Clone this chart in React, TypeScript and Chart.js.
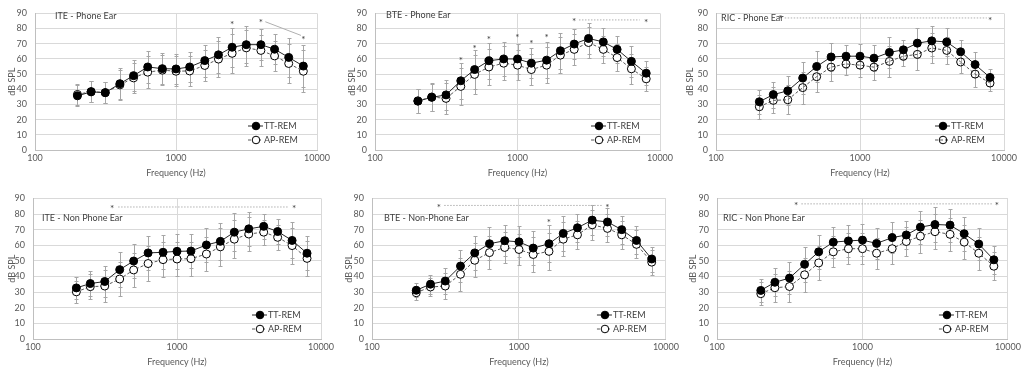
import React, { useEffect, useRef } from "react";
import { Chart, registerables } from "chart.js";

Chart.register(...registerables);

// ---------- data ----------
const freqs = [200, 250, 315, 400, 500, 630, 800, 1000, 1250, 1600, 2000, 2500, 3150, 4000, 5000, 6300, 8000];
const xTickValues = [100, 1000, 10000];
const seriesNames = ["TT-REM", "AP-REM"];
const axisTitleX = "Frequency (Hz)";
const axisTitleY = "dB SPL";

const itePhoneTT = [35.7, 38.3, 37.8, 43.7, 49, 54.7, 53.6, 53.4, 54.7, 58.9, 62.7, 67.7, 69.4, 69.4, 66.4, 61, 55.3];
const itePhoneAP = [36.6, 38.5, 37.8, 42.9, 47.5, 51.3, 52.6, 51.9, 52.1, 55.7, 59.9, 63.7, 67.3, 65.6, 62, 57, 51.9];
const itePhoneSD = [7, 7, 7, 10, 10, 10.5, 10, 10, 10, 10.5, 12, 13, 12, 10, 10, 13, 14];
const itePhoneStarF = [2500, 4000, 8000];
const itePhoneStarV = [83.5, 85, 74];
const itePhoneLinkF = [4300, 7700];
const itePhoneLinkV = [84.5, 75.5];

const btePhoneTT = [32.2, 34.7, 36.3, 45.6, 53, 58.8, 60, 60, 57.2, 59.2, 65.4, 69.8, 73.5, 71.2, 66.3, 58.4, 50.6];
const btePhoneAP = [32.4, 34.9, 34, 41.9, 49.8, 54.7, 57.2, 55.9, 53, 55.9, 62.5, 66.3, 70.8, 66.3, 60.9, 53.5, 46.9];
const btePhoneSD = [8, 9, 10, 12, 13, 12, 11, 10, 10, 12, 12, 10, 10, 9, 9, 10, 8];
const btePhoneStarF = [400, 500, 630, 1000, 1250, 1600, 2500, 8000];
const btePhoneStarV = [60, 68, 74, 75, 71.5, 75.5, 85.5, 85];
const btePhoneLinkF = [2700, 7200];
const btePhoneLinkV = [85.7, 85.7];

const ricPhoneTT = [31.8, 36.5, 39, 47.4, 55, 61.3, 61.8, 61.8, 60.5, 64.3, 66, 70.4, 71.9, 71.2, 64.7, 56.3, 47.8];
const ricPhoneAP = [28.5, 32.7, 33.1, 41.1, 48.3, 54.6, 56.7, 55.9, 54.6, 58.4, 61.8, 63, 67.2, 65.6, 58, 50, 44.1];
const ricPhoneSD = [8, 8.5, 9.5, 10.5, 10, 9, 7.5, 8, 8.5, 10, 6.5, 10, 10, 9, 7.5, 8.5, 5.5];
const ricPhoneStarF = [280, 8000];
const ricPhoneStarV = [88, 86.5];
const ricPhoneLinkF = [300, 7600];
const ricPhoneLinkV = [87, 87];

const iteNonTT = [32.7, 35.5, 36.8, 44.4, 49.9, 55.1, 55.5, 56.1, 56.3, 60.2, 62.5, 68.4, 70.5, 72.1, 68.8, 63.1, 54.9];
const iteNonAP = [30.2, 33.5, 33.9, 38.4, 44.2, 48.3, 50.8, 51.2, 51.4, 54.4, 59, 63.9, 67.2, 68.4, 65.1, 59.8, 51.6];
const iteNonSD = [7, 8, 10, 11, 11, 11, 11, 11, 11, 11, 12, 12, 11, 8, 8, 11.5, 11];
const iteNonStarF = [355, 6500];
const iteNonStarV = [84.5, 84.5];
const iteNonLinkF = [390, 5900];
const iteNonLinkV = [84.5, 84.5];

const bteNonTT = [31.2, 35.1, 37.1, 46.7, 55.1, 61, 62.9, 62.2, 58.2, 61, 67.6, 71.2, 76.1, 74.9, 70, 63.1, 51.2];
const bteNonAP = [29.6, 33.3, 33.9, 41.4, 50.4, 55.3, 58.6, 57.3, 54.1, 56.1, 63.9, 66.7, 73.1, 70.8, 66.7, 60.6, 49.2];
const bteNonSD = [4.5, 6, 8.5, 10.5, 11, 10.5, 10, 10, 11, 12, 11, 9, 9.5, 9, 9, 9, 8];
const bteNonStarF = [285, 1600, 4000];
const bteNonStarV = [85.5, 75.5, 85.5];
const bteNonLinkF = [310, 3700];
const bteNonLinkV = [85.5, 85.5];

const ricNonTT = [31.1, 36.3, 39, 47.8, 55.8, 62, 62.8, 63.3, 61.2, 64.9, 66.6, 71.6, 73.3, 72.9, 67.4, 60.8, 50.7];
const ricNonAP = [29, 32.8, 33.6, 41.1, 48.7, 55.8, 57.8, 57.8, 54.9, 57.8, 62.4, 65.8, 68.7, 67, 62, 54.9, 46.6];
const ricNonSD = [7.5, 9, 10, 11, 11, 10, 10, 10, 10, 10, 9, 10.5, 11, 10.5, 11, 10.5, 9];
const ricNonStarF = [350, 8400];
const ricNonStarV = [86.5, 86.5];
const ricNonLinkF = [380, 7900];
const ricNonLinkV = [86.5, 86.5];

// ---------- layout / style ----------
const FONT = "Lato, 'Open Sans', sans-serif";
const TEXT = "#595959";

type Panel = {
  title: string;
  tt: number[];
  ap: number[];
  sd: number[];
  starF: number[];
  starV: number[];
  linkF: number[];
  linkV: number[];
  linkDash: number[];
  apFill: string;
  cx: number; cy: number; cw: number; ch: number;
  pl: number; pr: number; pt: number; pb: number;
  tx: number; ty: number;
  yTitleX: number;
  xTitleY: number;
};

const panels: Panel[] = [
  {
    title: "ITE - Phone Ear", tt: itePhoneTT, ap: itePhoneAP, sd: itePhoneSD,
    starF: itePhoneStarF, starV: itePhoneStarV, linkF: itePhoneLinkF, linkV: itePhoneLinkV, linkDash: [],
    apFill: "#ffffff",
    cx: 0, cy: 0, cw: 341, ch: 185, pl: 35, pr: 317, pt: 7, pb: 150, tx: 55, ty: 16, yTitleX: 12, xTitleY: 173,
  },
  {
    title: "BTE - Phone Ear", tt: btePhoneTT, ap: btePhoneAP, sd: btePhoneSD,
    starF: btePhoneStarF, starV: btePhoneStarV, linkF: btePhoneLinkF, linkV: btePhoneLinkV, linkDash: [1.5, 1.5],
    apFill: "#ffffff",
    cx: 341, cy: 0, cw: 341, ch: 185, pl: 375, pr: 660, pt: 6, pb: 150, tx: 386, ty: 15, yTitleX: 352, xTitleY: 173,
  },
  {
    title: "RIC - Phone Ear", tt: ricPhoneTT, ap: ricPhoneAP, sd: ricPhoneSD,
    starF: ricPhoneStarF, starV: ricPhoneStarV, linkF: ricPhoneLinkF, linkV: ricPhoneLinkV, linkDash: [1.5, 1.5],
    apFill: "rgba(0,0,0,0)",
    cx: 682, cy: 0, cw: 342, ch: 185, pl: 716, pr: 1004, pt: 7, pb: 150, tx: 721, ty: 18, yTitleX: 690, xTitleY: 173,
  },
  {
    title: "ITE - Non Phone Ear", tt: iteNonTT, ap: iteNonAP, sd: iteNonSD,
    starF: iteNonStarF, starV: iteNonStarV, linkF: iteNonLinkF, linkV: iteNonLinkV, linkDash: [1.5, 1.5],
    apFill: "#ffffff",
    cx: 0, cy: 185, cw: 341, ch: 185, pl: 33, pr: 321, pt: 193, pb: 339, tx: 42, ty: 218, yTitleX: 12, xTitleY: 362,
  },
  {
    title: "BTE - Non-Phone Ear", tt: bteNonTT, ap: bteNonAP, sd: bteNonSD,
    starF: bteNonStarF, starV: bteNonStarV, linkF: bteNonLinkF, linkV: bteNonLinkV, linkDash: [1.5, 1.5],
    apFill: "#ffffff",
    cx: 341, cy: 185, cw: 341, ch: 185, pl: 372, pr: 668, pt: 192, pb: 339, tx: 384, ty: 218, yTitleX: 349, xTitleY: 362,
  },
  {
    title: "RIC - Non Phone Ear", tt: ricNonTT, ap: ricNonAP, sd: ricNonSD,
    starF: ricNonStarF, starV: ricNonStarV, linkF: ricNonLinkF, linkV: ricNonLinkV, linkDash: [1.5, 1.5],
    apFill: "#ffffff",
    cx: 682, cy: 185, cw: 342, ch: 185, pl: 717, pr: 1008, pt: 194, pb: 339, tx: 723, ty: 218, yTitleX: 693, xTitleY: 362,
  },
];

function makeOverlay(p: Panel) {
  return {
    id: "overlay",
    beforeDatasetsDraw(chart: any) {
      const xs = chart.scales.x;
      const ys = chart.scales.y;
      const ctx = chart.ctx as CanvasRenderingContext2D;
      ctx.save();
      ctx.strokeStyle = "#a6a6a6";
      ctx.lineWidth = 1;
      [p.tt, p.ap].forEach((series) => {
        series.forEach((v, i) => {
          const x = Math.round(xs.getPixelForValue(freqs[i])) + 0.5;
          const y1 = Math.round(ys.getPixelForValue(v + p.sd[i])) + 0.5;
          const y2 = Math.round(ys.getPixelForValue(v - p.sd[i])) + 0.5;
          ctx.beginPath();
          ctx.moveTo(x, y1);
          ctx.lineTo(x, y2);
          ctx.moveTo(x - 2, y1);
          ctx.lineTo(x + 2, y1);
          ctx.moveTo(x - 2, y2);
          ctx.lineTo(x + 2, y2);
          ctx.stroke();
        });
      });
      ctx.restore();
    },
    afterDraw(chart: any) {
      const xs = chart.scales.x;
      const ys = chart.scales.y;
      const ca = chart.chartArea;
      const ctx = chart.ctx as CanvasRenderingContext2D;
      ctx.save();
      ctx.fillStyle = "#404040";
      ctx.font = `9px ${FONT}`;
      ctx.textAlign = "left";
      ctx.textBaseline = "middle";
      ctx.fillText(p.title, p.tx - p.cx, p.ty - p.cy);
      ctx.strokeStyle = "#b0b0b0";
      ctx.lineWidth = 1;
      ctx.setLineDash(p.linkDash);
      ctx.beginPath();
      ctx.moveTo(xs.getPixelForValue(p.linkF[0]), ys.getPixelForValue(p.linkV[0]));
      ctx.lineTo(xs.getPixelForValue(p.linkF[1]), ys.getPixelForValue(p.linkV[1]));
      ctx.stroke();
      ctx.setLineDash([]);
      ctx.fillStyle = "#404040";
      ctx.font = `10px ${FONT}`;
      ctx.textAlign = "center";
      ctx.textBaseline = "middle";
      p.starF.forEach((f, i) => {
        ctx.fillText("*", xs.getPixelForValue(f), ys.getPixelForValue(p.starV[i]) + 2);
      });
      const mx = ca.right - 61;
      const rows = [ca.bottom - 24, ca.bottom - 10];
      rows.forEach((yy, k) => {
        ctx.strokeStyle = k === 0 ? "#262626" : "#595959";
        ctx.lineWidth = 1;
        ctx.setLineDash(k === 0 ? [] : [3, 2]);
        ctx.beginPath();
        ctx.moveTo(mx - 8, yy);
        ctx.lineTo(mx + 7, yy);
        ctx.stroke();
        ctx.setLineDash([]);
        ctx.beginPath();
        ctx.arc(mx, yy, 3.8, 0, Math.PI * 2);
        ctx.fillStyle = k === 0 ? "#000000" : p.apFill;
        ctx.fill();
        ctx.strokeStyle = "#000000";
        ctx.stroke();
        ctx.fillStyle = "#404040";
        ctx.font = `9px ${FONT}`;
        ctx.textAlign = "left";
        ctx.textBaseline = "middle";
        ctx.fillText(seriesNames[k], mx + 8, yy);
      });
      ctx.restore();
    },
  };
}

function PanelChart({ p }: { p: Panel }) {
  const ref = useRef<HTMLCanvasElement | null>(null);
  useEffect(() => {
    if (!ref.current) return;
    const leftW = p.pl - p.cx;
    const rightPad = p.cx + p.cw - p.pr;
    const topPad = p.pt - p.cy;
    const bottomH = p.cy + p.ch - p.pb;
    const chart = new Chart(ref.current, {
      type: "line",
      data: {
        datasets: [
          {
            label: seriesNames[0],
            data: freqs.map((f, i) => ({ x: f, y: p.tt[i] })),
            borderColor: "#262626",
            borderWidth: 1,
            pointRadius: 4,
            pointBackgroundColor: "#000000",
            pointBorderColor: "#000000",
            pointBorderWidth: 1,
            tension: 0,
          },
          {
            label: seriesNames[1],
            data: freqs.map((f, i) => ({ x: f, y: p.ap[i] })),
            borderColor: "#595959",
            borderWidth: 1,
            borderDash: [3, 2],
            pointRadius: 4,
            pointBackgroundColor: p.apFill,
            pointBorderColor: "#000000",
            pointBorderWidth: 1,
            tension: 0,
          },
        ],
      },
      options: {
        responsive: false,
        animation: false,
        devicePixelRatio: 1,
        layout: { padding: { left: 0, right: rightPad, top: topPad, bottom: 0 } },
        plugins: { legend: { display: false }, tooltip: { enabled: false } },
        scales: {
          x: {
            type: "logarithmic",
            min: 100,
            max: 10000,
            afterBuildTicks: (scale: any) => {
              scale.ticks = xTickValues.map((v) => ({ value: v }));
            },
            afterFit: (scale: any) => {
              scale.height = bottomH;
            },
            ticks: {
              autoSkip: false,
              maxRotation: 0,
              padding: 3,
              color: TEXT,
              font: { family: FONT, size: 9 },
              callback: (v: any) => String(v),
            },
            grid: { color: "#d9d9d9", drawTicks: false },
            border: { color: "#bfbfbf" },
            title: {
              display: true,
              text: axisTitleX,
              color: TEXT,
              font: { family: FONT, size: 9 },
              padding: { top: 0, bottom: p.cy + p.ch - p.xTitleY - 5.4 },
            },
          },
          y: {
            min: 0,
            max: 90,
            afterFit: (scale: any) => {
              scale.width = leftW;
            },
            ticks: {
              stepSize: 10,
              padding: 8,
              color: TEXT,
              font: { family: FONT, size: 9 },
            },
            grid: { color: "#d9d9d9", drawTicks: false },
            border: { color: "#bfbfbf" },
            title: {
              display: true,
              text: axisTitleY,
              color: TEXT,
              font: { family: FONT, size: 9 },
              padding: { top: p.yTitleX - p.cx - 5.4, bottom: 0 },
            },
          },
        },
      },
      plugins: [makeOverlay(p)],
    } as any);
    return () => chart.destroy();
  }, [p]);
  return (
    <div style={{ position: "absolute", left: p.cx, top: p.cy, width: p.cw, height: p.ch }}>
      <canvas ref={ref} width={p.cw} height={p.ch} style={{ display: "block" }} />
    </div>
  );
}

export default function App() {
  return (
    <div style={{ position: "absolute", left: 0, top: 0, width: 1024, height: 370, background: "#ffffff" }}>
      {panels.map((p, i) => (
        <PanelChart key={i} p={p} />
      ))}
    </div>
  );
}
